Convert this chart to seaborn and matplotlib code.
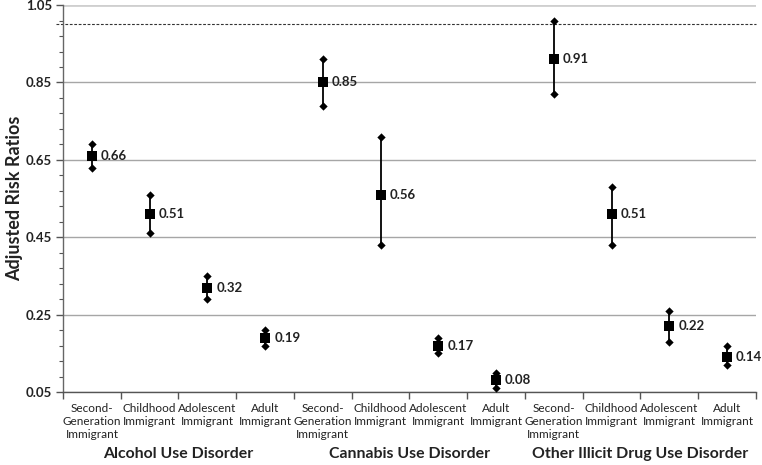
import matplotlib
matplotlib.use("Agg")
import matplotlib.pyplot as plt
import seaborn as sns
import pandas as pd
import numpy as np
from matplotlib.ticker import FixedLocator

groups = ["Alcohol Use Disorder", "Cannabis Use Disorder", "Other Illicit Drug Use Disorder"]
subgroups = ["Second-\nGeneration\nImmigrant", "Childhood\nImmigrant", "Adolescent\nImmigrant", "Adult\nImmigrant"]
rr = [0.66, 0.51, 0.32, 0.19, 0.85, 0.56, 0.17, 0.08, 0.91, 0.51, 0.22, 0.14]
lower = [0.63, 0.46, 0.29, 0.17, 0.79, 0.43, 0.15, 0.06, 0.82, 0.43, 0.18, 0.12]
upper = [0.69, 0.56, 0.35, 0.21, 0.91, 0.71, 0.19, 0.10, 1.01, 0.58, 0.26, 0.17]
rr_labels = ["0.66", "0.51", "0.32", "0.19", "0.85", "0.56", "0.17", "0.08", "0.91", "0.51", "0.22", "0.14"]
yticks = [0.05, 0.25, 0.45, 0.65, 0.85, 1.05]

sns.set_theme(style="white")
plt.rcParams['font.family'] = ['Lato', 'DejaVu Sans']

n = len(rr)
df = pd.DataFrame({
    "pos": np.arange(n),
    "rr": rr,
    "lower": lower,
    "upper": upper,
    "group": [g for g in groups for _ in subgroups],
    "sub": subgroups * len(groups),
})
ci = pd.concat([
    df[["pos", "lower"]].rename(columns={"lower": "val"}),
    df[["pos", "upper"]].rename(columns={"upper": "val"}),
])

fig = plt.figure(figsize=(7.62, 4.65), dpi=100)
ax = fig.add_axes([0.0827, 0.157, 0.9093, 0.832])

for y in yticks:
    ax.axhline(y, color="#a6a6a6" if y < 1.0 else "#cfcfcf", lw=1.0 if y < 1.0 else 2.0, zorder=0)
ax.axhline(1.0, color="#333333", lw=0.8, ls=(0, (2.5, 1.5)), zorder=1, xmin=-0.01, clip_on=False)

ax.vlines(df["pos"], df["lower"], df["upper"], color="black", lw=1.3, zorder=2)
sns.scatterplot(data=ci, x="pos", y="val", marker="D", s=18, color="black",
                edgecolor="black", linewidth=0, ax=ax, zorder=3, legend=False)
sns.scatterplot(data=df, x="pos", y="rr", marker="s", s=42, color="black",
                edgecolor="black", linewidth=0, ax=ax, zorder=4, legend=False)

for p, v, t in zip(df["pos"], df["rr"], rr_labels):
    ax.annotate(t, (p, v), xytext=(6.5, 0), textcoords="offset points",
                ha="left", va="center", fontsize=9.5, fontweight="bold", color="#222222")

ax.set_xlim(-0.5, n - 0.5)
ax.set_ylim(0.05, 1.05)
ax.set_yticks(yticks)
ax.set_yticklabels([f"{v:.2f}" for v in yticks], fontsize=9.5, fontweight="bold", color="#222222")
ax.yaxis.set_minor_locator(FixedLocator([round(0.05 + 0.04 * k, 2) for k in range(26)]))
ax.tick_params(axis="y", which="major", length=5, width=1, color="#555555", direction="out", left=True, pad=3)
ax.tick_params(axis="y", which="minor", length=3, width=0.8, color="#555555", direction="out", left=True)

ax.set_xticks(np.arange(n + 1) - 0.5)
ax.set_xticklabels([])
ax.set_xticks(np.arange(n), minor=True)
ax.set_xticklabels(df["sub"], minor=True, fontsize=8.5, color="#222222", linespacing=1.2)
ax.tick_params(axis="x", which="major", length=5, width=1, color="#555555", direction="out", bottom=True)
ax.tick_params(axis="x", which="minor", length=0, pad=8)
ax.set_xlabel("")
ax.set_ylabel("Adjusted Risk Ratios", fontsize=13, fontweight="bold", color="#222222", labelpad=2)

for gi, g in enumerate(groups):
    ax.text(gi * 4 + 1.5, -0.142, g, transform=ax.get_xaxis_transform(), ha="center", va="top",
            fontsize=11.4, fontweight="bold", color="#222222")

for s in ["top", "right"]:
    ax.spines[s].set_visible(False)
ax.spines["left"].set_color("#666666")
ax.spines["bottom"].set_color("#555555")
ax.spines["left"].set_linewidth(1)
ax.spines["bottom"].set_linewidth(1)
ax.grid(False)

fig.savefig("out.png", dpi=100)
